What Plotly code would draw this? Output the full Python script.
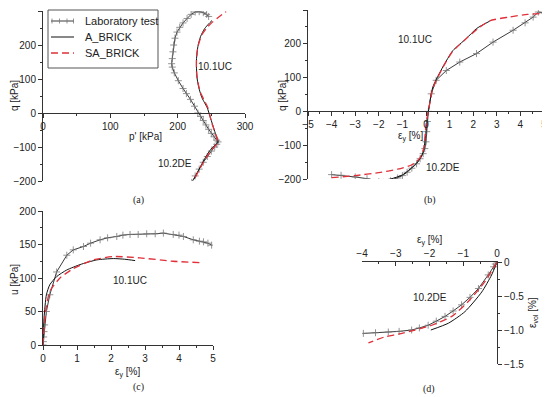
import plotly.graph_objects as go

W, H = 550, 397
OFF = 8  # page body margin offset of the figure inside the window

# ---------------- data ----------------
# (a) q vs p'
a_lab_p = [221, 226, 232, 238, 244, 250, 255, 258, 260, 258, 254, 250, 246, 242, 238, 234, 230, 225, 219, 213, 208,
           201, 195, 192, 191, 192, 193, 194, 196, 199, 203, 208, 214, 220, 226, 232, 238, 243, 246]
a_lab_q = [-204, -185, -165, -145, -128, -112, -100, -92, -85, -80, -70, -60, -48, -35, -22, -10, 0, 20, 40, 57, 72,
           95, 118, 135, 145, 160, 180, 200, 220, 238, 252, 265, 278, 290, 297, 298, 295, 290, 284]
a_a_p = [224, 232, 240, 248, 255, 260, 256, 252, 248, 244, 240, 236, 232, 229, 228, 228, 230, 234, 240, 246, 251]
a_a_q = [-195, -165, -135, -110, -95, -86, -60, -35, -10, 15, 30, 45, 70, 100, 130, 160, 195, 225, 248, 262, 272]
a_sa_p = [226, 234, 242, 250, 256, 260, 255, 250, 245, 240, 234, 230, 228, 228, 230, 236, 244, 252, 262, 272]
a_sa_q = [-190, -160, -132, -110, -96, -86, -55, -25, 15, 35, 60, 90, 120, 160, 195, 230, 252, 268, 284, 298]

# (b) q vs eps_y
b_lab_e = [-4.0, -3.6, -3.0, -2.5, -2.0, -1.8, -1.5, -1.2, -1.0, -0.8, -0.6, -0.4, -0.25, -0.12, -0.05, 0.0, 0.03,
           0.06, 0.1, 0.22, 0.43, 0.86, 1.43, 2.14, 2.84, 3.69, 4.2, 4.54, 4.76, 5.0]
b_lab_q = [-187, -189, -194, -199, -208, -210, -205, -197, -190, -180, -168, -155, -140, -125, -110, -90, -60,
           -30, 0, 52, 92, 121, 146, 171, 205, 240, 262, 279, 294, 291]
b_a_e = [-2.0, -1.5, -1.0, -0.5, -0.25, -0.1, 0.0, 0.05, 0.1, 0.29, 0.71, 1.14, 1.7, 2.14, 2.7]
b_a_q = [-205, -200, -188, -160, -140, -115, -60, -20, 0, 72, 131, 180, 215, 245, 267]
b_sa_e = [-4.0, -3.0, -2.0, -1.2, -0.6, -0.28, -0.1, 0.0, 0.1, 0.3, 0.7, 1.1, 1.7, 2.2, 2.7, 3.5, 4.3, 5.0]
b_sa_q = [-196, -190, -181, -171, -158, -140, -110, -40, 0, 70, 128, 175, 215, 245, 268, 279, 287, 290]

# (c) u vs eps_y
c_lab_e = [0, 0.01, 0.02, 0.03, 0.05, 0.1, 0.2, 0.4, 0.7, 0.89, 1.19, 1.4, 1.68, 1.9, 2.17, 2.35, 2.56, 2.8, 3.05,
           3.3, 3.54, 3.83, 4.0, 4.13, 4.42, 4.6, 4.72, 4.85, 4.96]
c_lab_u = [0, 5, 12, 20, 30, 50, 75, 109, 134, 142, 147, 152, 157, 160, 162, 164, 165, 165, 166,
           166, 167, 165, 164, 162, 157, 155, 154, 152, 149]
c_a_e = [0, 0.03, 0.1, 0.2, 0.4, 0.7, 1.09, 1.58, 2.07, 2.4, 2.71]
c_a_u = [0, 40, 75, 90, 102, 112, 120, 127, 129, 128, 126]
c_sa_e = [0, 0.03, 0.06, 0.2, 0.5, 0.89, 1.48, 2.07, 2.85, 3.83, 4.6]
c_sa_u = [0, 25, 45, 80, 100, 114, 127, 132, 130, 125, 123]

# (d) eps_vol vs eps_y
d_lab_e = [0, -0.05, -0.1, -0.26, -0.55, -0.8, -1.05, -1.3, -1.54, -1.8, -2.04, -2.3, -2.53, -2.9, -3.22,
           -3.6, -3.96]
d_lab_v = [0, -0.03, -0.07, -0.19, -0.39, -0.52, -0.63, -0.72, -0.80, -0.87, -0.93, -0.97, -1.0, -1.02, -1.03,
           -1.04, -1.05]
d_a_e = [0, -0.16, -0.45, -0.95, -1.44, -1.96]
d_a_v = [0, -0.19, -0.44, -0.73, -0.9, -1.0]
d_sa_e = [0, -0.36, -0.85, -1.34, -1.93, -2.43, -2.92, -3.32, -3.81]
d_sa_v = [0, -0.29, -0.58, -0.8, -0.93, -1.0, -1.06, -1.1, -1.19]

d_ytick_vals = [0, -0.5, -1.0, -1.5]
d_ytick_text = ["0", "\u22120.5", "\u22121.0", "\u22121.5"]

legend_names = ["Laboratory test", "A_BRICK", "SA_BRICK"]

# ---------------- styles ----------------
LAB_COLOR = "#3a3a3a"
MARK_COLOR = "#777777"
A_COLOR = "#111111"
SA_COLOR = "#e0303a"
SA_DASH = "7px,4px"
LAB_LINE = dict(color=LAB_COLOR, width=1)
LAB_MARK = dict(symbol="cross-thin", size=5, line=dict(color=MARK_COLOR, width=0.8))
A_LINE = dict(color=A_COLOR, width=1)
SA_LINE = dict(color=SA_COLOR, width=1.3, dash=SA_DASH)
SANS = "Liberation Sans, Arial, sans-serif"
SERIF = "Liberation Serif, Times New Roman, serif"
TICKF = dict(family=SANS, size=10, color="#222222")


def px2x(px):
    return (px - OFF) / W


def py2y(py):
    return 1 - (py - OFF) / H


fig = go.Figure()

panels = [
    ("x", "y", a_lab_p, a_lab_q, a_a_p, a_a_q, a_sa_p, a_sa_q),
    ("x2", "y2", b_lab_e, b_lab_q, b_a_e, b_a_q, b_sa_e, b_sa_q),
    ("x3", "y3", c_lab_e, c_lab_u, c_a_e, c_a_u, c_sa_e, c_sa_u),
    ("x4", "y4", d_lab_e, d_lab_v, d_a_e, d_a_v, d_sa_e, d_sa_v),
]
for xa, ya, lx, ly, ax_, ay_, sx, sy in panels:
    fig.add_trace(go.Scatter(x=lx, y=ly, mode="lines+markers", line=LAB_LINE, marker=LAB_MARK,
                             name=legend_names[0], showlegend=False, xaxis=xa, yaxis=ya))
    fig.add_trace(go.Scatter(x=ax_, y=ay_, mode="lines", line=dict(**A_LINE, shape="spline", smoothing=0.6),
                             name=legend_names[1], showlegend=False, xaxis=xa, yaxis=ya))
    fig.add_trace(go.Scatter(x=sx, y=sy, mode="lines", line=dict(**SA_LINE, shape="spline", smoothing=0.6),
                             name=legend_names[2], showlegend=False, xaxis=xa, yaxis=ya))

common = dict(showgrid=False, zeroline=False, showline=True, linecolor="#333333", linewidth=1,
              ticks="outside", ticklen=4, tickcolor="#333333", tickfont=TICKF, automargin=False)

# domains (reference pixel positions)
a_xd = [px2x(43), px2x(245)]
a_yd = [py2y(181), py2y(11)]
b_xd = [px2x(308), px2x(544)]
b_yd = [py2y(179), py2y(10)]
c_xd = [px2x(43), px2x(213)]
c_yd = [py2y(345), py2y(211)]
d_xd = [px2x(362), px2x(497)]
d_yd = [py2y(364), py2y(262)]

a_pos = a_yd[0] + (0 - (-200)) / 500 * (a_yd[1] - a_yd[0])
b_pos = b_yd[0] + (0 - (-200)) / 500 * (b_yd[1] - b_yd[0])

fig.update_layout(
    xaxis=dict(**common, domain=a_xd, range=[0, 300], dtick=100, anchor="free", position=a_pos,
               minor=dict(ticks="outside", ticklen=2, dtick=50, tickcolor="#333333")),
    yaxis=dict(**common, domain=a_yd, range=[-200, 300], dtick=100, anchor="x",
               minor=dict(ticks="outside", ticklen=2, dtick=50, tickcolor="#333333")),
    xaxis2=dict(**common, domain=b_xd, range=[-5, 5], dtick=1, anchor="free", position=b_pos,
                minor=dict(ticks="outside", ticklen=2, dtick=0.5, tickcolor="#333333")),
    yaxis2=dict(**common, domain=b_yd, range=[-200, 300], dtick=100, anchor="x2",
                minor=dict(ticks="outside", ticklen=2, dtick=50, tickcolor="#333333")),
    xaxis3=dict(**common, domain=c_xd, range=[0, 5], dtick=1, anchor="y3",
                minor=dict(ticks="outside", ticklen=2, dtick=0.5, tickcolor="#333333")),
    yaxis3=dict(**common, domain=c_yd, range=[0, 200], dtick=50, anchor="x3",
                minor=dict(ticks="outside", ticklen=2, dtick=25, tickcolor="#333333")),
    xaxis4=dict(**{**common, "ticks": "inside"}, domain=d_xd, range=[-4, 0], dtick=1, anchor="y4", side="top",
                minor=dict(ticks="inside", ticklen=2, dtick=0.5, tickcolor="#333333")),
    yaxis4=dict(**common, domain=d_yd, range=[-1.5, 0], anchor="x4", side="right",
                tickvals=d_ytick_vals, ticktext=d_ytick_text,
                minor=dict(ticks="outside", ticklen=2, dtick=0.25, tickcolor="#333333")),
)

ann = []
shapes = []


def txt(x, y, s, size=10, angle=0, family=SANS, xanchor="center"):
    ann.append(dict(x=px2x(x), y=py2y(y), xref="paper", yref="paper", text=s, showarrow=False,
                    textangle=angle, font=dict(family=family, size=size, color="#222222"),
                    xanchor=xanchor, yanchor="middle"))


def seg(x0, y0, x1, y1, color, width=1, dash="solid"):
    shapes.append(dict(type="line", xref="paper", yref="paper", x0=px2x(x0), y0=py2y(y0),
                       x1=px2x(x1), y1=py2y(y1), line=dict(color=color, width=width, dash=dash)))


EPSY = "\u03b5<sub>y</sub> [%]"
# axis titles
txt(145, 137, "p' [kPa]")
txt(14, 96, "q [kPa]", angle=-90)
txt(410, 137, EPSY)
txt(282, 96, "q [kPa]", angle=-90)
txt(14, 280, "u [kPa]", angle=-90)
txt(127, 372, EPSY)
txt(430, 240, EPSY)
txt(533, 313, "\u03b5<sub>vol</sub> [%]", angle=-90)
# curve labels
txt(215, 67, "10.1UC")
txt(175, 163, "10.2DE")
txt(415, 40, "10.1UC")
txt(443, 167, "10.2DE")
txt(130, 280, "10.1UC")
txt(430, 297, "10.2DE")
# panel labels
txt(138, 200, "(a)", family=SERIF)
txt(430, 200, "(b)", family=SERIF)
txt(138, 387, "(c)", family=SERIF)
txt(429, 389, "(d)", family=SERIF)

# legend box (panel a)
shapes.append(dict(type="rect", xref="paper", yref="paper", x0=px2x(48), y0=py2y(68), x1=px2x(158),
                   y1=py2y(10), line=dict(color="#555555", width=1), fillcolor="white", layer="above"))
rows = [21, 37, 53]
seg(51, rows[0], 74, rows[0], LAB_COLOR, 1)
for xm in [52, 59.5, 67, 73.5]:
    seg(xm, rows[0] - 2.5, xm, rows[0] + 2.5, MARK_COLOR, 0.8)
seg(51, rows[1], 74, rows[1], A_COLOR, 1)
seg(51, rows[2], 74, rows[2], SA_COLOR, 1.3, SA_DASH)
for r, name in zip(rows, legend_names):
    txt(83, r, name, size=11, xanchor="left")

fig.update_layout(
    annotations=ann, shapes=shapes,
    width=W, height=H, autosize=False, showlegend=False,
    margin=dict(l=0, r=0, t=0, b=0, pad=0, autoexpand=False),
    paper_bgcolor="white", plot_bgcolor="white",
)

fig.write_html("out.html")
